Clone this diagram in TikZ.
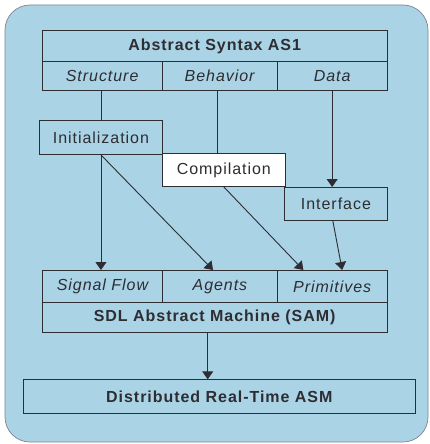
\documentclass[tikz,border=0pt]{standalone}
\usepackage{fontspec}
\setmainfont{Liberation Sans}[LetterSpace=6]
\usetikzlibrary{arrows.meta,calc}
\definecolor{panel}{RGB}{170,211,230}
\definecolor{rim}{RGB}{120,135,145}
\definecolor{ink}{RGB}{45,45,50}
\begin{document}
\begin{tikzpicture}[x=1pt,y=-1pt,
  cell/.style={draw=ink, line width=0.9pt, inner sep=0pt, anchor=north west,
    text=ink, font=\fontsize{16}{19}\selectfont},
  head/.style={cell, font=\fontsize{16}{19}\selectfont\bfseries},
  part/.style={cell, font=\fontsize{16}{19}\selectfont\itshape},
  link/.style={draw=ink, line width=0.9pt},
  flow/.style={link, -{Triangle[length=8pt,width=11pt]}}]
\useasboundingbox (0,0) rectangle (430,444);
% rounded panel
\draw[draw=rim, line width=0.7pt, fill=panel, rounded corners=25pt] (5,5) rectangle (428,442);

% abstract syntax table
\node[head, minimum width=345pt, minimum height=31pt] (as1) at (41.7,30) {Abstract Syntax AS1};
\node[part, minimum width=120pt, minimum height=29pt] (str) at (41.7,61) {Structure};
\node[part, minimum width=115pt, minimum height=29pt] (beh) at (161.7,61) {Behavior};
\node[part, minimum width=110pt, minimum height=29pt] (dat) at (276.7,61) {Data};

% intermediate stages
\node[cell, minimum width=122.4pt, minimum height=34pt] (init) at (39.3,120) {Initialization};
\node[cell, fill=white, minimum width=123.3pt, minimum height=33pt] (comp) at (161.7,153) {Compilation};
\node[cell, minimum width=102.4pt, minimum height=33pt] (intf) at (284.3,187) {Interface};

% SDL abstract machine table
\node[part, minimum width=120.6pt, minimum height=31.7pt] (sig) at (41.7,270) {Signal Flow};
\node[part, minimum width=114.4pt, minimum height=31.7pt] (agt) at (162.3,270) {Agents};
\node[part, minimum width=110pt, minimum height=31.7pt] (pri) at (276.7,270) {Primitives};
\node[head, minimum width=345pt, minimum height=30pt] (sam) at (41.7,301.7) {SDL Abstract Machine (SAM)};

% target machine
\node[head, minimum width=392.3pt, minimum height=34pt] (drt) at (22.7,379.3) {Distributed Real-Time ASM};

% connectors
\draw[link] (init.north |- str.south) -- (init.north);
\draw[link] ($(beh.south west)!0.48!(beh.south east)$) coordinate (bs) -- (bs |- comp.north);
\draw[flow] (dat.south) -- (dat.south |- intf.north);
\draw[flow] (init.south) -- (init.south |- sig.north);
\draw[flow] (init.south) -- ($(agt.north west)!0.44!(agt.north east)$);
\draw[flow] (comp.south) -- ($(pri.north west)!0.24!(pri.north east)$);
\draw[flow] ($(intf.south west)!0.47!(intf.south east)$) -- ($(pri.north west)!0.59!(pri.north east)$);
\draw[flow] ($(sam.south west)!0.48!(sam.south east)$) coordinate (ss) -- (ss |- drt.north);
\end{tikzpicture}
\end{document}
